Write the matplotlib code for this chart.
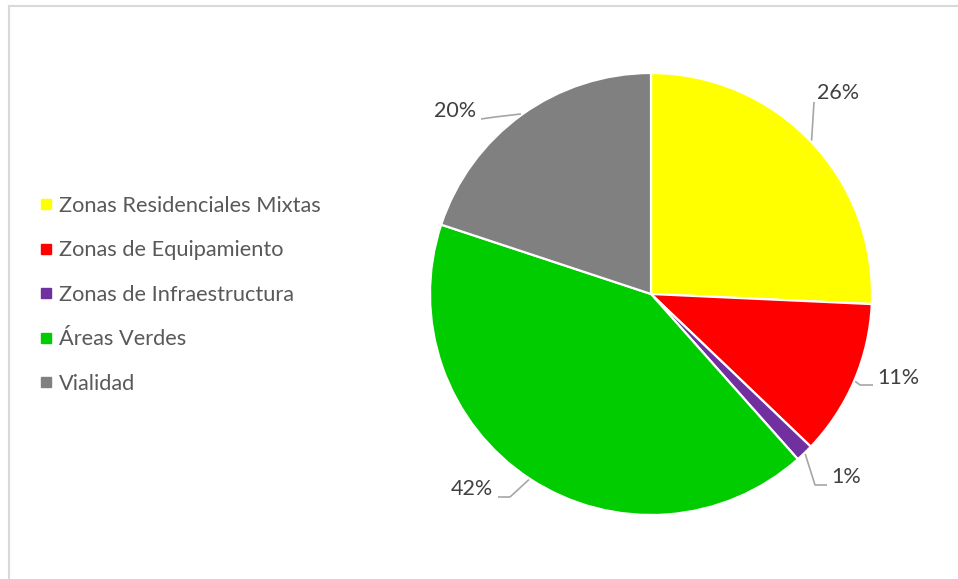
import numpy as np
import matplotlib.pyplot as plt
from matplotlib.lines import Line2D

categories = ["Zonas Residenciales Mixtas", "Zonas de Equipamiento",
              "Zonas de Infraestructura", "Áreas Verdes", "Vialidad"]
shares = [25.7, 11.4, 1.3, 41.6, 19.9]
colors = ["#FFFF00", "#FF0000", "#7030A0", "#00CC00", "#808080"]

plt.rcParams['font.family'] = ['Lato', 'DejaVu Sans']

W, H = 958, 579
cx, cy, R = 651, 294, 221


def to_data(px, py):
    return (px - cx) / R, (cy - py) / R


fig = plt.figure(figsize=(W / 100, H / 100), dpi=100)
ax = fig.add_axes([0, 0, 1, 1])
wedges, _ = ax.pie(shares, colors=colors, startangle=90, counterclock=False,
                   radius=1, wedgeprops=dict(edgecolor="white", linewidth=1.6))
ax.set_xlim(-cx / R, (W - cx) / R)
ax.set_ylim((cy - H) / R, cy / R)
ax.set_aspect("auto")
ax.axis("off")

# data labels with Excel-style leader lines
text_pos = [(838, 93), (898, 378), (846, 477), (472, 489), (455, 111)]
elbows = [(814, 102), (860, 385), (815, 485), (510, 497), (495, 117)]
tails = [(814, 102), (873, 385), (827, 485), (498, 497), (481, 119)]

for w, v, t, e, k in zip(wedges, shares, text_pos, elbows, tails):
    ang = np.deg2rad((w.theta1 + w.theta2) / 2)
    x0, y0 = 1.005 * np.cos(ang), 1.005 * np.sin(ang)
    ex, ey = to_data(*e)
    kx, ky = to_data(*k)
    ax.plot([x0, ex, kx], [y0, ey, ky], color="#A6A6A6", lw=1.2,
            solid_capstyle="butt")
    tx, ty = to_data(*t)
    ax.text(tx, ty, f"{v:.0f}%", ha="center", va="center",
            fontsize=15.5, color="#404040")

handles = [Line2D([], [], marker="s", linestyle="none", color=c,
                  markersize=6.5) for c in colors]
fig.legend(handles, categories, loc="upper left",
           bbox_to_anchor=(24 / W, 1 - 185 / H), frameon=False,
           fontsize=15.7, labelcolor="#595959", labelspacing=1.12,
           handletextpad=0.1, handlelength=1.0, borderpad=0)

# chart area border (only top and left edges fall inside the image)
fig.add_artist(Line2D([9 / W, 9 / W], [0, 1 - 6 / H], color="#D9D9D9",
                      lw=1.5, transform=fig.transFigure))
fig.add_artist(Line2D([9 / W, 1], [1 - 6 / H, 1 - 6 / H], color="#D9D9D9",
                      lw=1.5, transform=fig.transFigure))

fig.savefig("out.png", dpi=100, facecolor="white")
